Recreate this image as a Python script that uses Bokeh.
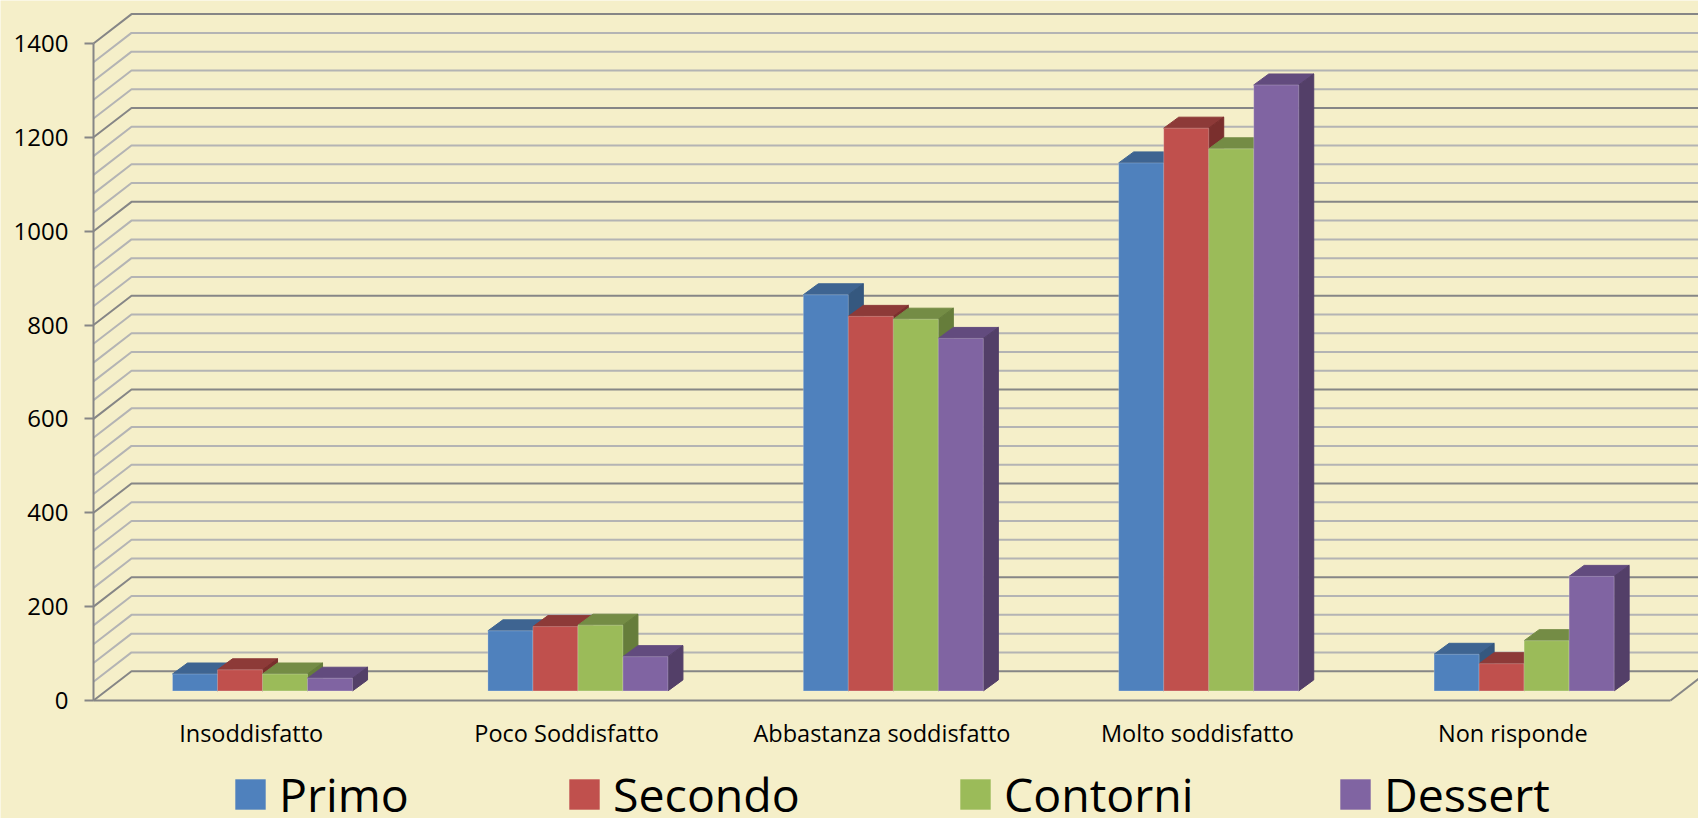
from bokeh.embed import file_html
from bokeh.resources import INLINE
from bokeh.plotting import figure
from bokeh.models import ColumnDataSource, FixedTicker, Legend, LegendItem

# Survey counts per satisfaction level
categories = ["Insoddisfatto", "Poco Soddisfatto", "Abbastanza soddisfatto", "Molto soddisfatto", "Non risponde"]
primo = [36, 128, 844, 1125, 78]
secondo = [45, 137, 798, 1199, 58]
contorni = [36, 140, 792, 1155, 107]
dessert = [27, 73, 751, 1291, 244]
series_names = ["Primo", "Secondo", "Contorni", "Dessert"]
series_values = [primo, secondo, contorni, dessert]
front_colors = ["#4f81bd", "#c0504d", "#9bbb59", "#8064a2"]
top_colors = ["#3e6491", "#8d3a38", "#748c45", "#624b7e"]
side_colors = ["#35587f", "#7a2f2d", "#667d3b", "#533f68"]

BG = "#f5efc9"
MAJOR = "#868686"
MINOR = "#b4b4b4"
FONT = "Open Sans"

# 3D projection, expressed in axis units (categories on x, counts on y)
WALL_DX, WALL_DY = 0.1205, 62.5       # depth of the floor
BAR_W = 0.1427                        # width of one bar
BAR_DX, BAR_DY = 0.0476, 23.4         # depth of one bar
BAR_X0, BAR_Y0 = 0.2505, 20.5         # where the first bar stands on the floor
Y_MAX = 1400
X_CATS = 5

# The plot area fills the page; axes sit at the zero lines inside it
x_view = (-0.29487, 5.0888)
y_view = (-251.4, 1491.5)

p = figure(frame_width=1698, frame_height=818, output_backend="svg", toolbar_location=None,
           x_range=x_view, y_range=y_view,
           min_border_left=0, min_border_right=0, min_border_top=0, min_border_bottom=0,
           background_fill_color=BG, border_fill_color=BG, outline_line_color=None)
p.grid.visible = False

# Back wall and side wall gridlines, one every 40 units
minor_levels = [v for v in range(0, Y_MAX + 1, 40) if v % 200 != 0]
major_levels = list(range(0, Y_MAX + 1, 200))
for levels, color, width in ((minor_levels, MINOR, 2), (major_levels, MAJOR, 2)):
    p.multi_line(
        xs=[[0, WALL_DX, x_view[1] + 1] for _ in levels],
        ys=[[v, v + WALL_DY, v + WALL_DY] for v in levels],
        line_color=color, line_width=width)

# Right edge of the floor
p.line([X_CATS, X_CATS + WALL_DX], [0, WALL_DY], line_color=MAJOR, line_width=2)

# Bars are painted series by series so nearer faces cover the ones behind
fronts = []
for s, (name, vals) in enumerate(zip(series_names, series_values)):
    left = [i + BAR_X0 + s * BAR_W for i in range(len(vals))]
    right = [x + BAR_W for x in left]
    top = [BAR_Y0 + v for v in vals]
    bottom = [BAR_Y0] * len(vals)
    p.patches(
        xs=[[l, r, r + BAR_DX, l + BAR_DX] for l, r in zip(left, right)],
        ys=[[t, t, t + BAR_DY, t + BAR_DY] for t in top],
        fill_color=top_colors[s], line_color=top_colors[s], line_width=1)
    p.patches(
        xs=[[r, r + BAR_DX, r + BAR_DX, r] for r in right],
        ys=[[t, t + BAR_DY, b + BAR_DY, b] for t, b in zip(top, bottom)],
        fill_color=side_colors[s], line_color=side_colors[s], line_width=1)
    src = ColumnDataSource(dict(left=left, right=right, top=top, bottom=bottom))
    fronts.append(p.quad(left="left", right="right", top="top", bottom="bottom", source=src,
                         fill_color=front_colors[s], line_color=None))
    # thin pale edge around each front face
    p.quad(left="left", right="right", top="top", bottom="bottom", source=src,
           fill_color=None, line_color="#ffffff", line_alpha=0.22, line_width=1)

# Axes
p.yaxis.fixed_location = 0
p.yaxis.bounds = (0, Y_MAX)
p.yaxis.ticker = FixedTicker(ticks=major_levels)
p.yaxis.axis_line_color = MAJOR
p.yaxis.axis_line_width = 2
p.yaxis.major_tick_line_color = MAJOR
p.yaxis.major_tick_line_width = 2
p.yaxis.major_tick_out = 9
p.yaxis.major_tick_in = 0
p.yaxis.minor_tick_line_color = None
p.yaxis.major_label_standoff = 16
p.yaxis.major_label_text_font = FONT
p.yaxis.major_label_text_font_size = "24px"
p.yaxis.major_label_text_color = "#000000"

ticks = [i + 0.5 for i in range(len(categories))]
p.xaxis.fixed_location = 0
p.xaxis.bounds = (0, X_CATS)
p.xaxis.ticker = FixedTicker(ticks=ticks)
p.xaxis.major_label_overrides = dict(zip(ticks, categories))
p.xaxis.axis_line_color = MAJOR
p.xaxis.axis_line_width = 2
p.xaxis.major_tick_line_color = None
p.xaxis.minor_tick_line_color = None
p.xaxis.major_label_standoff = 10
p.xaxis.major_label_text_font = FONT
p.xaxis.major_label_text_font_size = "23.5px"
p.xaxis.major_label_text_color = "#000000"

# One small legend per series, spread along the bottom of the page
for name, front, legend_x in zip(series_names, fronts, (231, 565, 956, 1336)):
    legend = Legend(items=[LegendItem(label=name, renderers=[front])],
                    orientation="horizontal", location=(legend_x, -8),
                    glyph_width=38, glyph_height=38, label_standoff=10,
                    label_text_font=FONT, label_text_font_size="46.5px",
                    label_text_color="#000000", label_height=30, padding=0, margin=0,
                    background_fill_alpha=0, border_line_color=None)
    p.add_layout(legend)

open("out.html", "w").write(file_html(p, INLINE))
